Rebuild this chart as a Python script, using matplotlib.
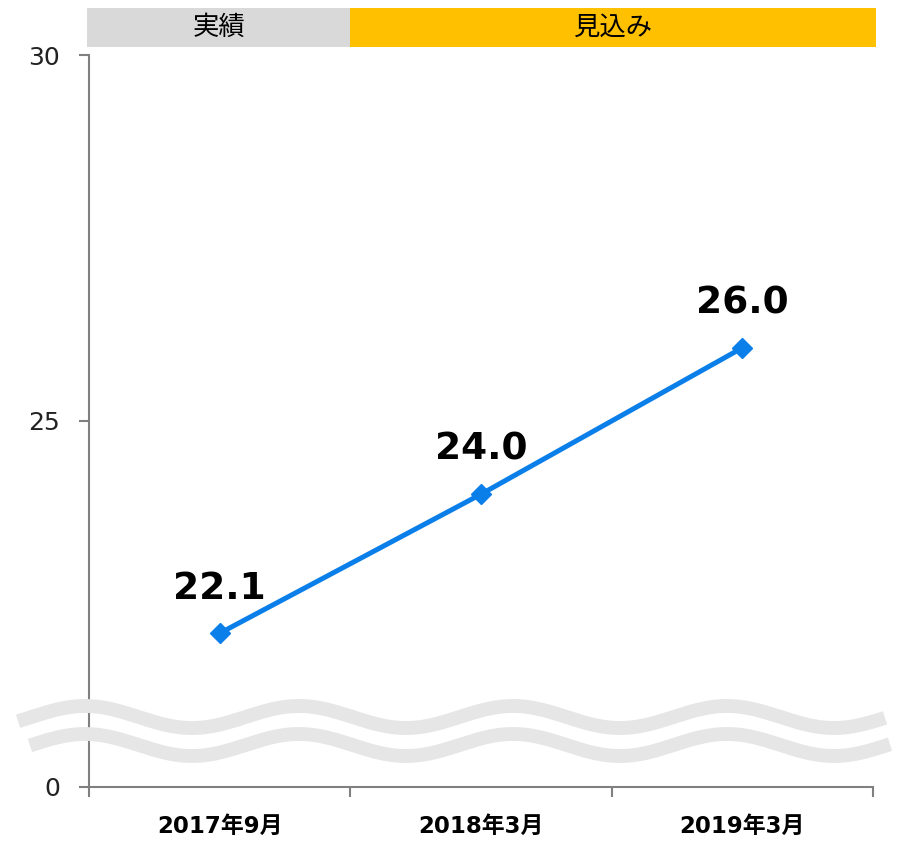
import numpy as np
import matplotlib
matplotlib.use("Agg")
import matplotlib.pyplot as plt
import matplotlib.transforms as mtransforms

plt.rcParams['font.family'] = ['DejaVu Sans', 'Noto Sans CJK JP']

# データ
categories = ['2017年9月', '2018年3月', '2019年3月']
values = [22.1, 24.0, 26.0]
value_labels = ['22.1', '24.0', '26.0']
y_ticks = [20, 25, 30]
y_tick_labels = ['0', '25', '30']
phases = ['実績', '見込み']
phase_spans = [(-0.008, 1), (1, 3.012)]
phase_colors = ['#d9d9d9', '#ffc000']

W, H = 899, 844
fig = plt.figure(figsize=(W / 100, H / 100), dpi=100)
ax = fig.add_axes([89 / W, 1 - 787 / H, (873 - 89) / W, (787 - 55) / H])

x = np.arange(len(categories)) + 0.5
ax.plot(x, values, color='#0b7fe9', linewidth=3.6, marker='D',
        markersize=10, zorder=5)

for xi, v, lab in zip(x, values, value_labels):
    ax.annotate(lab, (xi, v), xytext=(0, 32), textcoords='offset points',
                ha='center', va='center', fontsize=27, fontweight='bold',
                color='black')

ax.set_xlim(0, 3)
ax.set_ylim(20, 30)
ax.set_yticks(y_ticks)
ax.set_yticklabels(y_tick_labels, fontsize=18, color='#222222')
ax.set_xticks([0, 1, 2, 3])
ax.set_xticklabels([])
ax.set_xticks(x, minor=True)
ax.set_xticklabels(categories, minor=True, fontsize=16.5, fontweight='bold')
ax.tick_params(axis='x', which='minor', length=0, pad=20)
ax.tick_params(axis='x', which='major', length=7, width=1.5, color='#808080')
ax.tick_params(axis='y', length=7, width=1.5, color='#808080', pad=14)

for side in ['top', 'right']:
    ax.spines[side].set_visible(False)
for side in ['left', 'bottom']:
    ax.spines[side].set_color('#808080')
    ax.spines[side].set_linewidth(1.5)

# 見出し帯
trans = mtransforms.blended_transform_factory(ax.transData, ax.transAxes)
for name, (a, b), col in zip(phases, phase_spans, phase_colors):
    rect = plt.Rectangle((a, 1.011), b - a, 0.053, transform=trans,
                         facecolor=col, edgecolor='none', clip_on=False)
    ax.add_patch(rect)
    ax.text((a + b) / 2, 1.0375, name, transform=trans, ha='center',
            va='center', fontsize=19, family=['Noto Sans CJK JP'])

# 波線（省略記号）
px_x = (873 - 89) / 3
px_y = (787 - 55) / 10
def to_data(xp, yp):
    return (xp - 89) / px_x, 30 - (yp - 55) / px_y

xs = np.linspace(18, 885, 400)
ys = 717 - 11 * np.cos(2 * np.pi * (xs - 85) / 214)
dx, dy = to_data(xs, ys)
ax.plot(dx, dy, color='#e6e6e6', linewidth=10, clip_on=False, zorder=3,
        solid_capstyle='butt')
xs2 = np.linspace(30, 890, 400)
ys2 = 745 - 11 * np.cos(2 * np.pi * (xs2 - 85) / 214)
dx2, dy2 = to_data(xs2, ys2)
ax.plot(dx2, dy2, color='#e6e6e6', linewidth=10, clip_on=False, zorder=3,
        solid_capstyle='butt')

fig.savefig('out.png', dpi=100)
